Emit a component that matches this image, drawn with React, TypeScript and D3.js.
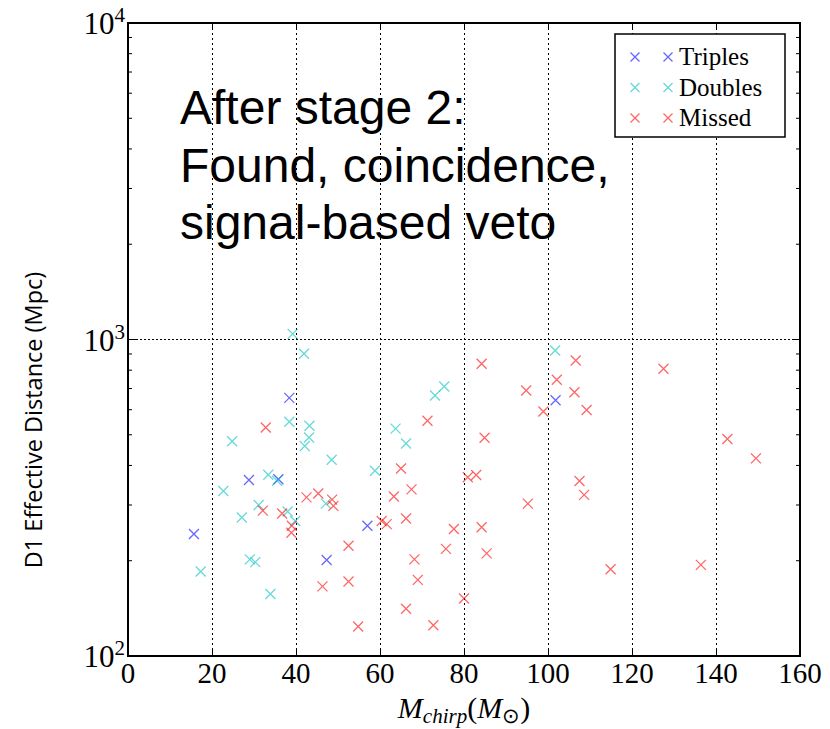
import React from 'react';
import * as d3 from 'd3';

// Chirp mass (Msun), D1 effective distance (Mpc)
const triples: [number, number][] = [
  [15.7, 243], [28.8, 360], [35.8, 362], [38.4, 654], [47.3, 201], [57.0, 258], [101.8, 643],
];

const doubles: [number, number][] = [
  [17.3, 185], [22.7, 332], [24.8, 477], [27.1, 274], [29.0, 202], [30.3, 198], [31.1, 300],
  [33.4, 374], [33.9, 157], [35.5, 358], [38.0, 286], [38.4, 550], [39.2, 1042], [39.8, 267],
  [41.9, 901], [42.1, 461], [43.1, 490], [43.2, 534], [47.1, 303], [48.5, 417], [58.8, 385],
  [63.7, 523], [66.2, 469], [73.1, 665], [75.3, 710], [101.7, 923],
];

const missed: [number, number][] = [
  [32.1, 288], [32.8, 527], [36.7, 282], [38.9, 245], [39.0, 258], [42.5, 317], [45.3, 326],
  [46.3, 166], [48.6, 312], [48.9, 298], [52.5, 223], [52.5, 172], [54.8, 124], [60.4, 267],
  [61.6, 261], [63.3, 319], [65.0, 391], [66.2, 272], [66.2, 141], [67.5, 336], [68.2, 202],
  [69.0, 174], [71.3, 554], [72.7, 125], [75.7, 218], [77.6, 252], [80.0, 152], [80.9, 367],
  [82.9, 373], [84.2, 838], [84.2, 255], [84.9, 489], [85.4, 211], [94.8, 690], [95.2, 303],
  [98.9, 592], [102.1, 746], [106.3, 681], [106.6, 858], [107.5, 357], [108.6, 323], [109.2, 599],
  [114.9, 188], [127.5, 808], [136.4, 194], [142.7, 485], [149.5, 421],
];

const xTicks = [0, 20, 40, 60, 80, 100, 120, 140, 160];
const yExponents = [2, 3, 4];
const seriesNames = ['Triples', 'Doubles', 'Missed'];
const seriesColors = ['#0000ff', '#00bfbf', '#ff0000'];
const annotation = ['After stage 2:', 'Found, coincidence,', 'signal-based veto'];

const serif = '"Liberation Serif", "Times New Roman", serif';

const Cross = ({ x, y, color, r = 5 }: { x: number; y: number; color: string; r?: number }) => (
  <path
    d={`M${x - r},${y - r}L${x + r},${y + r}M${x - r},${y + r}L${x + r},${y - r}`}
    stroke={color}
    strokeWidth={1.3}
    strokeOpacity={0.6}
    fill="none"
  />
);

const App = () => {
  const left = 128, right = 800, top = 23, bottom = 656;
  const x = d3.scaleLinear().domain([0, 160]).range([left, right]);
  const y = d3.scaleLog().domain([100, 10000]).range([bottom, top]);

  const minor: number[] = [];
  [100, 1000].forEach(b => { for (let k = 2; k <= 9; k++) minor.push(b * k); });

  const groups = [triples, doubles, missed];

  return (
    <svg width={830} height={729} style={{ position: 'absolute', left: 0, top: 0, background: '#fff' }}>
      <rect width={830} height={729} fill="#fff" />

      {/* grid */}
      {xTicks.slice(1, -1).map(t => (
        <line key={'gx' + t} x1={x(t) + 0.5} x2={x(t) + 0.5} y1={top} y2={bottom}
          stroke="#000" strokeWidth={1} strokeDasharray="2,3" />
      ))}
      <line x1={left} x2={right} y1={y(1000)} y2={y(1000)} stroke="#000" strokeWidth={1} strokeDasharray="2,2" />

      {/* ticks */}
      {xTicks.map(t => (
        <g key={'xt' + t}>
          <line x1={x(t) + 0.5} x2={x(t) + 0.5} y1={bottom} y2={bottom - 6} stroke="#000" />
          <line x1={x(t) + 0.5} x2={x(t) + 0.5} y1={top} y2={top + 6} stroke="#000" />
        </g>
      ))}
      {minor.map(v => (
        <g key={'ym' + v}>
          <line x1={left} x2={left + 4} y1={y(v)} y2={y(v)} stroke="#000" />
          <line x1={right} x2={right - 4} y1={y(v)} y2={y(v)} stroke="#000" />
        </g>
      ))}
      {yExponents.map(e => (
        <g key={'yM' + e}>
          <line x1={left} x2={left + 8} y1={y(10 ** e)} y2={y(10 ** e)} stroke="#000" />
          <line x1={right} x2={right - 8} y1={y(10 ** e)} y2={y(10 ** e)} stroke="#000" />
        </g>
      ))}

      {/* points */}
      {groups.map((g, i) => (
        <g key={seriesNames[i]}>
          {g.map((d, j) => <Cross key={j} x={x(d[0])} y={y(d[1])} color={seriesColors[i]} />)}
        </g>
      ))}

      {/* frame */}
      <rect x={left} y={top} width={right - left} height={bottom - top} fill="none" stroke="#000" strokeWidth={2} />

      {/* tick labels */}
      {xTicks.map(t => (
        <text key={'xl' + t} x={x(t)} y={683} textAnchor="middle" fontFamily={serif} fontSize={29}>{t}</text>
      ))}
      {yExponents.map(e => (
        <text key={'yl' + e} x={125} y={y(10 ** e) + 11} textAnchor="end" fontFamily={serif} fontSize={31}>
          10<tspan fontSize={21} dy={-12}>{e}</tspan>
        </text>
      ))}

      {/* axis labels */}
      <text x={464} y={718} textAnchor="middle" fontFamily={serif} fontSize={30} fontStyle="italic">
        M<tspan fontSize={21} dy={5}>chirp</tspan>
        <tspan fontStyle="normal" dy={-5}>(</tspan>M
        <tspan fontSize={21} dy={5} fontStyle="normal">⊙</tspan>
        <tspan fontStyle="normal" dy={-5}>)</tspan>
      </text>
      <text transform="translate(42,420) rotate(-90)" textAnchor="middle"
        fontFamily='"Open Sans", sans-serif' fontSize={23.5}>D1 Effective Distance (Mpc)</text>

      {/* annotation */}
      {annotation.map((s, i) => (
        <text key={s} x={180} y={124 + i * 57.5} fontFamily='"Liberation Sans", Arial, sans-serif' fontSize={48}>{s}</text>
      ))}

      {/* legend */}
      <rect x={615} y={34} width={170} height={103} fill="#fff" stroke="#000" strokeWidth={1.5} />
      {seriesNames.map((n, i) => (
        <g key={'lg' + n}>
          <Cross x={635} y={57 + i * 30.5} color={seriesColors[i]} r={4.5} />
          <Cross x={668} y={57 + i * 30.5} color={seriesColors[i]} r={4.5} />
          <text x={679} y={65 + i * 30.5} fontFamily={serif} fontSize={25}>{n}</text>
        </g>
      ))}
    </svg>
  );
};

export default App;
